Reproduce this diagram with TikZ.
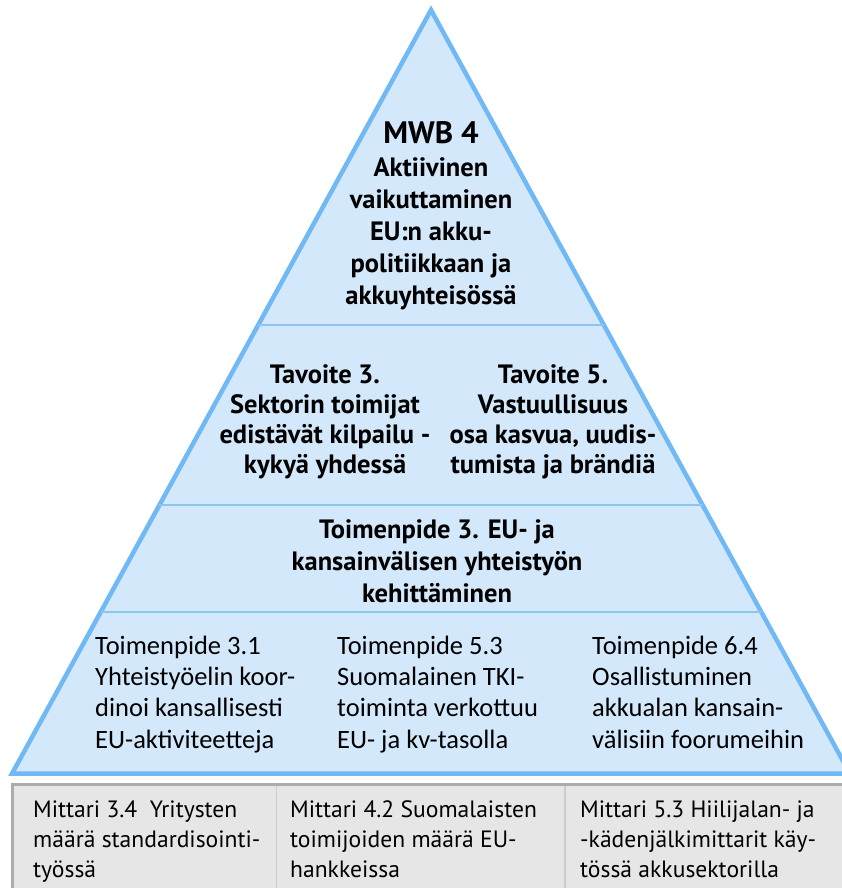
\documentclass[tikz,border=0pt]{standalone}
\usepackage{fontspec}
\setmainfont{PT Sans}
\newfontfamily\calfont{Carlito}
\usetikzlibrary{calc}

\definecolor{pyrfill}{RGB}{211,232,251}
\definecolor{pyredge}{RGB}{112,185,245}
\definecolor{pyrsep}{RGB}{140,198,238}
\definecolor{boxfill}{RGB}{230,230,230}
\definecolor{boxedge}{RGB}{172,172,172}
\definecolor{boxsep}{RGB}{205,205,205}

\tikzset{
  headtext/.style={font={\bfseries\fontsize{26.5}{31.8}\selectfont}, align=center, inner sep=0pt, anchor=base},
  goaltext/.style={font={\bfseries\fontsize{26.5}{29.7}\selectfont}, align=center, inner sep=0pt, anchor=base},
  acttext/.style={font={\calfont\fontsize{26.5}{31.3}\selectfont}, align=left, inner sep=0pt, anchor=base west},
  metertext/.style={font={\fontsize{23.6}{30}\selectfont}, align=left, inner sep=0pt, anchor=base west},
  seprule/.style={draw=pyrsep, line width=1.5pt},
}

\begin{document}
\begin{tikzpicture}[x=1pt, y=-1pt]
\clip (0,0) rectangle (842,888);
\fill[white] (0,0) rectangle (842,888);

% pyramid outline
\coordinate (apex) at (431,10);
\coordinate (bl) at (12,773.7);
\coordinate (br) at (850,773.7);
\filldraw[fill=pyrfill, draw=pyredge, line width=4.5pt, line join=miter] (apex) -- (bl) -- (br) -- cycle;

% level separators
\foreach \t/\n in {0.4125/a, 0.6482/b, 0.7883/c}{
  \coordinate (L\n) at ($(apex)!\t!(bl)$);
  \coordinate (R\n) at ($(apex)!\t!(br)$);
  \draw[seprule] (L\n) -- (R\n);
}

% indicator strip under the pyramid
\filldraw[fill=boxfill, draw=boxedge, line width=3pt] (12.5,784.5) rectangle (900,950);
\coordinate (d1t) at (276.5,786);
\coordinate (d1b) at (276.5,890);
\coordinate (d2t) at (565,786);
\coordinate (d2b) at (565,890);
\draw[boxsep, line width=1.5pt] (d1t) -- (d1b);
\draw[boxsep, line width=1.5pt] (d2t) -- (d2b);

% top level (anchors sit on the last baseline)
\node[headtext, font={\bfseries\fontsize{31}{32}\selectfont}] (mwb) at (431,143) {MWB 4};
\node[headtext] (aim) at (431,304) {Aktiivinen\\vaikuttaminen\\EU:n akku-\\politiikkaan ja\\akkuyhteisössä};

% goals
\node[goaltext] (goal3) at (325,473) {Tavoite 3.\\Sektorin toimijat\\edistävät kilpailu -\\kykyä yhdessä};
\node[goaltext] (goal5) at (553,473) {Tavoite 5.\\Vastuullisuus\\osa kasvua, uudis-\\tumista ja brändiä};

% main measure
\node[headtext, font={\bfseries\fontsize{26.5}{32}\selectfont}] (meas3) at (437,602) {Toimenpide 3. EU- ja\\kansainvälisen yhteistyön\\kehittäminen};

% sub-measures
\node[acttext] (m31) at (95,748) {Toimenpide 3.1\\Yhteistyöelin koor-\\dinoi kansallisesti\\EU-aktiviteetteja};
\node[acttext] (m53) at (337,748) {Toimenpide 5.3\\Suomalainen TKI-\\toiminta verkottuu\\EU- ja kv-tasolla};
\node[acttext] (m64) at (592,748) {Toimenpide 6.4\\Osallistuminen\\akkualan kansain-\\välisiin foorumeihin};

% indicators
\node[metertext] (i34) at (33,877) {Mittari 3.4~~Yritysten\\määrä standardisointi-\\työssä};
\node[metertext] (i42) at (290,877) {Mittari 4.2 Suomalaisten\\toimijoiden määrä EU-\\hankkeissa};
\node[metertext] (i53) at (580,877) {Mittari 5.3 Hiilijalan- ja\\-kädenjälkimittarit käy-\\tössä akkusektorilla};
\end{tikzpicture}
\end{document}
